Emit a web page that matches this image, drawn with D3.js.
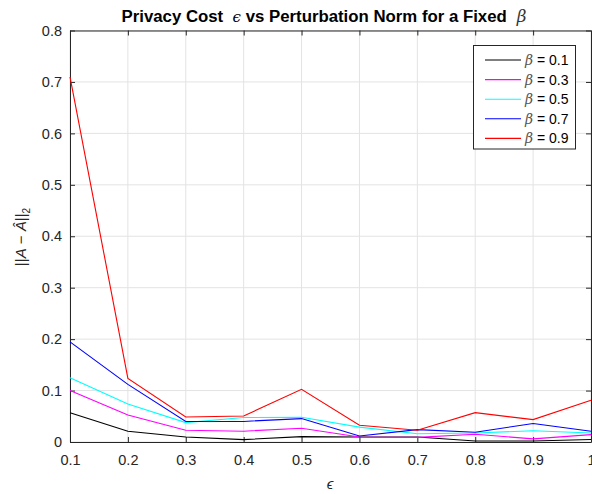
<!DOCTYPE html>
<html><head><meta charset="utf-8">
<script src="https://cdn.jsdelivr.net/npm/d3@7"></script>
<style>
html,body{margin:0;padding:0;background:#fff;}
svg{display:block;}
text{font-family:"Liberation Sans",Arial,Helvetica,sans-serif;}
</style></head>
<body>
<svg id="chart" width="592" height="494"></svg>
<script>
const epsilons = [0.1,0.2,0.3,0.4,0.5,0.6,0.7,0.8,0.9,1.0];
const betaLabels = ["0.1","0.3","0.5","0.7","0.9"];
const seriesColors = ["#000000","#ff00ff","#00ffff","#0000ff","#ff0000"];
const beta01 = [0.057,0.021,0.0097,0.0047,0.0105,0.0097,0.0097,0.002,0.002,0.005];
const beta03 = [0.100,0.0525,0.0228,0.021,0.0267,0.0097,0.009,0.015,0.006,0.0143];
const beta05 = [0.125,0.074,0.0377,0.0475,0.048,0.029,0.016,0.0175,0.022,0.0175];
const beta07 = [0.1946,0.112,0.040,0.040,0.0455,0.0117,0.024,0.019,0.036,0.021];
const beta09 = [0.710,0.1235,0.0486,0.0506,0.1025,0.0325,0.0228,0.057,0.0436,0.081];
const allSeries = [beta01,beta03,beta05,beta07,beta09];
const xTicks = [0.1,0.2,0.3,0.4,0.5,0.6,0.7,0.8,0.9,1];
const yTicks = [0,0.1,0.2,0.3,0.4,0.5,0.6,0.7,0.8];

const svg = d3.select("#chart");
const L = 70, R = 591, T = 30.5, B = 442;
const x = d3.scaleLinear().domain([0.1,1]).range([L,R]);
const y = d3.scaleLinear().domain([0,0.8]).range([B,T]);

// grid
const g = svg.append("g");
g.selectAll(".gx").data(xTicks).enter().append("line")
  .attr("x1",d=>x(d)).attr("x2",d=>x(d)).attr("y1",T).attr("y2",B)
  .attr("stroke","#e3e3e3").attr("stroke-width",1);
g.selectAll(".gy").data(yTicks).enter().append("line")
  .attr("x1",L).attr("x2",R).attr("y1",d=>y(d)).attr("y2",d=>y(d))
  .attr("stroke","#e3e3e3").attr("stroke-width",1);

// axes
const fmt = d => d===1 ? "1" : (d===0 ? "0" : d3.format(".1f")(d));
const axB = d3.axisBottom(x).tickValues(xTicks).tickSizeInner(-5).tickSizeOuter(0).tickPadding(13).tickFormat(fmt);
const axL = d3.axisLeft(y).tickValues(yTicks).tickSizeInner(-5).tickSizeOuter(0).tickPadding(8).tickFormat(fmt);
const axT = d3.axisTop(x).tickValues(xTicks).tickSizeInner(-5).tickSizeOuter(0).tickFormat("");
const axR = d3.axisRight(y).tickValues(yTicks).tickSizeInner(-5).tickSizeOuter(0).tickFormat("");
function style(sel){
  sel.select(".domain").attr("stroke","#262626").attr("stroke-width",1);
  sel.selectAll(".tick line").attr("stroke","#262626");
  sel.selectAll(".tick text").attr("fill","#262626").attr("font-size","14.5px")
     .attr("font-family","'Liberation Sans',Arial,sans-serif");
}
svg.append("g").attr("transform",`translate(0,${B})`).call(axB).call(style);
svg.append("g").attr("transform",`translate(${L},0)`).call(axL).call(style);
svg.append("g").attr("transform",`translate(0,${T})`).call(axT).call(style);
svg.append("g").attr("transform",`translate(${R},0)`).call(axR).call(style);

// lines
const line = d3.line().x((d,i)=>x(epsilons[i])).y(d=>y(d));
allSeries.forEach((s,k)=>{
  svg.append("path").datum(s).attr("d",line).attr("fill","none")
    .attr("stroke",seriesColors[k]).attr("stroke-width",1.1);
});

// title
const title = svg.append("text").attr("x",324).attr("y",22).attr("text-anchor","middle")
  .attr("font-size","16.8px").attr("font-weight","bold").attr("fill","#000");
title.append("tspan").text("Privacy Cost\u00a0");
title.append("tspan").attr("font-family","'DejaVu Serif',serif").attr("font-style","italic").attr("font-weight","normal").attr("font-size","15px").text("\u00a0\u03f5");
title.append("tspan").text(" vs Perturbation Norm for a Fixed\u00a0");
title.append("tspan").attr("font-family","'DejaVu Serif',serif").attr("font-style","italic").attr("font-weight","normal").attr("fill","#333").text("\u00a0\u03b2");

// x label
svg.append("text").attr("x",330).attr("y",489).attr("text-anchor","middle")
  .attr("font-family","'DejaVu Serif',serif").attr("font-style","italic").attr("font-size","15px")
  .attr("fill","#262626").text("\u03f5");

// y label
const yl = svg.append("text").attr("transform","translate(26,237) rotate(-90)").attr("text-anchor","middle")
  .attr("font-family","'DejaVu Serif',serif").attr("font-size","15px").attr("fill","#262626");
yl.append("tspan").text("||");
yl.append("tspan").attr("font-style","italic").text("A");
yl.append("tspan").text(" \u2212 ");
yl.append("tspan").attr("font-style","italic").text("\u00c2");
yl.append("tspan").text("||");
yl.append("tspan").attr("font-size","10px").attr("dy",4).text("2");

// legend
const lg = svg.append("g");
lg.append("rect").attr("x",473.5).attr("y",45.5).attr("width",102).attr("height",103.5)
  .attr("fill","#fff").attr("stroke","#262626").attr("stroke-width",1);
betaLabels.forEach((b,k)=>{
  const yy = 60 + k*19.6;
  lg.append("line").attr("x1",485).attr("x2",521).attr("y1",yy).attr("y2",yy)
    .attr("stroke",seriesColors[k]).attr("stroke-width",1.1);
  const t = lg.append("text").attr("x",525).attr("y",yy+5).attr("font-size","14px").attr("fill","#000");
  t.append("tspan").attr("font-family","'DejaVu Serif',serif").attr("font-style","italic").attr("fill","#555").text("\u03b2");
  t.append("tspan").text(" = " + b);
});
</script>
</body></html>
